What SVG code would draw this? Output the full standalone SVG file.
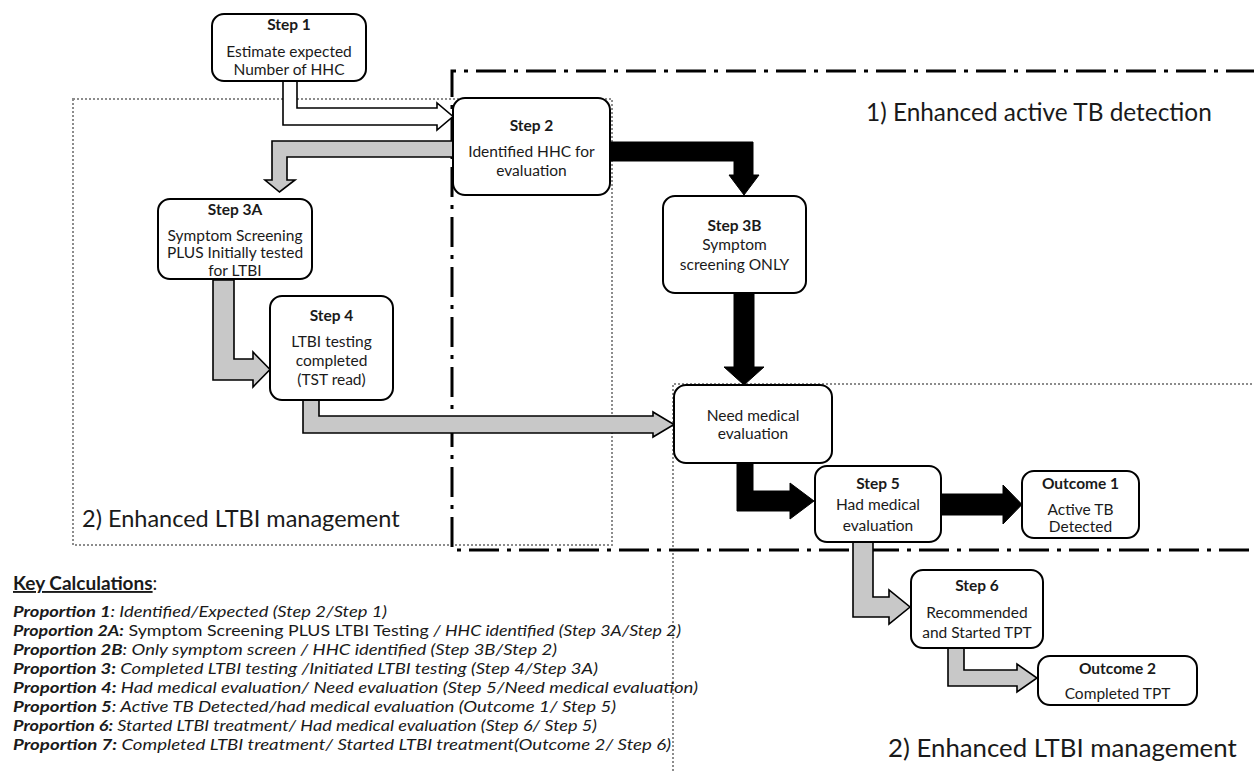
<svg xmlns="http://www.w3.org/2000/svg" width="1254" height="771" viewBox="0 0 1254 771">
<style>
.box{fill:#fff;stroke:#000;stroke-width:2}
.t{font-family:Lato,"Liberation Sans",sans-serif;font-size:15.5px;fill:#1a1a1a;text-anchor:middle}
.b{font-weight:bold}
.region{font-family:Lato,"Liberation Sans",sans-serif;font-size:24.4px;fill:#1a1a1a}
.dot{fill:none;stroke:#8c8c8c;stroke-width:2;stroke-dasharray:2 2}
.dd{fill:none;stroke:#000;stroke-width:3;stroke-dasharray:30 8 4 8}
.ga{fill:#c8c8c8;stroke:#000;stroke-width:1.6;stroke-linejoin:miter}
.ba{fill:#000;stroke:#000;stroke-width:1}
.wa{fill:#fff;stroke:#000;stroke-width:1.6}
.k{font-family:Lato,"Liberation Sans",sans-serif;font-size:15.5px;fill:#1a1a1a;font-style:italic}
.kb{font-weight:bold}
.up{font-style:normal}
</style>
<rect width="1254" height="771" fill="#fff"/>
<g id="regions">
<rect class="dot" x="73" y="99" width="539" height="446"/>
<path class="dot" d="M673,771 L673,384 L1256,384"/>
<path class="dd" d="M1256,71 L452,71 L452,550 L1256,550"/>
<text class="region" x="866" y="121">1) Enhanced active TB detection</text>
<text class="region" x="82" y="527" style="font-size:23.5px">2) Enhanced LTBI management</text>
<text class="region" x="888" y="757" style="font-size:25.8px">2) Enhanced LTBI management</text>
</g>
<g id="connectors">
<path class="wa" d="M283,81 L297,81 L297,108 L437,108 L437,103 L453,116.5 L437,130 L437,125 L283,125 Z"/>
<path class="ga" d="M453,141 L272,141 L272,180 L265,180 L279.5,192 L295,180 L287,180 L287,157 L453,157 Z"/>
<path class="ba" d="M610,142 L753,142 L753,175 L759,175 L744,195 L729,175 L734,175 L734,161 L610,161 Z"/>
<path class="ba" d="M734,293 L754,293 L754,367 L764,367 L744,385 L724,367 L734,367 Z"/>
<path class="ga" d="M213,280 L234,280 L234,359 L253,359 L253,352 L270,369.5 L253,387 L253,380 L213,380 Z"/>
<path class="ga" d="M303,400 L319,400 L319,416 L653,416 L653,412 L674,424.5 L653,437 L653,433 L303,433 Z"/>
<path class="ba" d="M737,463 L753,463 L753,491 L790,491 L790,483 L814,501 L790,519 L790,511 L737,511 Z"/>
<path class="ba" d="M941,494 L1003,494 L1003,485 L1022,504.5 L1003,524 L1003,515 L941,515 Z"/>
<path class="ga" d="M853,542 L873,542 L873,597 L889,597 L889,590 L910,607 L889,624 L889,617 L853,617 Z"/>
<path class="ga" d="M948,648 L964,648 L964,670 L1017,670 L1017,664 L1037,678 L1017,692 L1017,686 L948,686 Z"/>
</g>
<g id="step1">
<rect class="box" x="212" y="14" width="154" height="67" rx="12"/>
<text class="t b" x="289" y="30">Step 1</text>
<text class="t" x="289" y="57">Estimate expected</text>
<text class="t" x="289" y="75">Number  of HHC</text>
</g>
<g id="step2">
<rect class="box" x="453" y="98" width="157" height="97" rx="12"/>
<text class="t b" x="531.5" y="131">Step 2</text>
<text class="t" x="531.5" y="157">Identified HHC for</text>
<text class="t" x="531.5" y="176">evaluation</text>
</g>
<g id="step3a">
<rect class="box" x="158" y="199" width="154" height="80" rx="12"/>
<text class="t b" x="235" y="215">Step 3A</text>
<text class="t" x="235" y="241">Symptom Screening</text>
<text class="t" x="235" y="258">PLUS Initially tested</text>
<text class="t" x="235" y="276">for LTBI</text>
</g>
<g id="step3b">
<rect class="box" x="663" y="196" width="143" height="97" rx="12"/>
<text class="t b" x="734.5" y="231">Step 3B</text>
<text class="t" x="734.5" y="250">Symptom</text>
<text class="t" x="734.5" y="270">screening ONLY</text>
</g>
<g id="step4">
<rect class="box" x="270" y="296" width="123" height="104" rx="12"/>
<text class="t b" x="331.5" y="321">Step 4</text>
<text class="t" x="331.5" y="347">LTBI testing</text>
<text class="t" x="331.5" y="366">completed</text>
<text class="t" x="331.5" y="385">(TST read)</text>
</g>
<g id="need">
<rect class="box" x="674" y="385" width="158" height="78" rx="12"/>
<text class="t" x="753" y="421">Need medical</text>
<text class="t" x="753" y="439">evaluation</text>
</g>
<g id="step5">
<rect class="box" x="815" y="466" width="126" height="76" rx="12"/>
<text class="t b" x="878" y="489">Step 5</text>
<text class="t" x="878" y="510">Had medical</text>
<text class="t" x="878" y="531">evaluation</text>
</g>
<g id="outcome1">
<rect class="box" x="1022" y="471" width="117" height="67" rx="12"/>
<text class="t b" x="1080.5" y="489">Outcome 1</text>
<text class="t" x="1080.5" y="515">Active TB</text>
<text class="t" x="1080.5" y="532">Detected</text>
</g>
<g id="step6">
<rect class="box" x="911" y="570" width="132" height="78" rx="12"/>
<text class="t b" x="977" y="591">Step 6</text>
<text class="t" x="977" y="618">Recommended</text>
<text class="t" x="977" y="638">and Started TPT</text>
</g>
<g id="outcome2">
<rect class="box" x="1038" y="656" width="159" height="49" rx="12"/>
<text class="t b" x="1117.5" y="674">Outcome 2</text>
<text class="t" x="1117.5" y="699">Completed TPT</text>
</g>
<g id="key">
<text class="k" x="13" y="590" style="font-style:normal;font-size:19px"><tspan font-weight="bold" text-decoration="underline">Key Calculations</tspan>:</text>
<text class="k" x="13" y="617" textLength="374" lengthAdjust="spacingAndGlyphs"><tspan class="kb">Proportion 1</tspan>: Identified/Expected (Step 2/Step 1)</text>
<text class="k" x="13" y="636" textLength="668" lengthAdjust="spacingAndGlyphs"><tspan class="kb">Proportion 2A:</tspan><tspan class="up"> Symptom Screening  PLUS LTBI Testing </tspan>/ HHC identified (Step 3A/Step 2)</text>
<text class="k" x="13" y="655" textLength="544" lengthAdjust="spacingAndGlyphs"><tspan class="kb">Proportion 2B</tspan>: Only symptom screen / HHC identified (Step 3B/Step 2)</text>
<text class="k" x="13" y="674" textLength="585" lengthAdjust="spacingAndGlyphs"><tspan class="kb">Proportion 3:</tspan> Completed LTBI testing /Initiated LTBI testing (Step 4/Step 3A)</text>
<text class="k" x="13" y="693" textLength="685" lengthAdjust="spacingAndGlyphs"><tspan class="kb">Proportion 4:</tspan> Had medical evaluation/ Need evaluation (Step 5/Need medical evaluation)</text>
<text class="k" x="13" y="712" textLength="603" lengthAdjust="spacingAndGlyphs"><tspan class="kb">Proportion 5</tspan>: Active TB Detected/had medical evaluation (Outcome 1/ Step 5)</text>
<text class="k" x="13" y="731" textLength="584" lengthAdjust="spacingAndGlyphs"><tspan class="kb">Proportion 6:</tspan> Started LTBI treatment/ Had medical evaluation (Step 6/ Step 5)</text>
<text class="k" x="13" y="750" textLength="658" lengthAdjust="spacingAndGlyphs"><tspan class="kb">Proportion 7:</tspan> Completed LTBI treatment/ Started LTBI treatment(Outcome 2/ Step 6)</text>
</g>
</svg>
